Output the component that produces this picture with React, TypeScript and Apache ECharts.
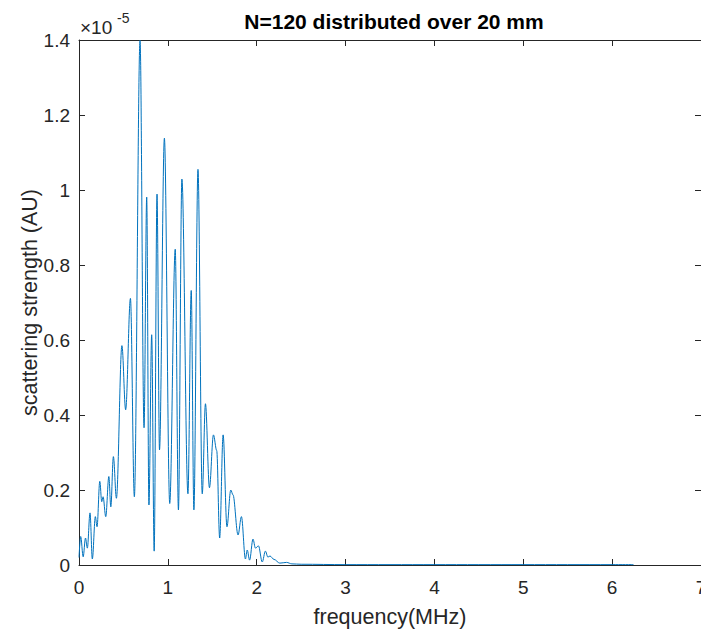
import React, { useEffect, useRef } from "react";
import * as echarts from "echarts";

// frequency in MHz
const freq = [
  0.0, 0.019, 0.047, 0.073, 0.094, 0.124, 0.15, 0.184, 0.203, 0.234, 0.256, 0.271, 0.301, 0.336,
  0.358, 0.387, 0.421, 0.483, 0.525, 0.579, 0.623, 0.687, 0.732, 0.762, 0.787, 0.818, 0.846,
  0.878, 0.906, 0.961, 1.021, 1.083, 1.119, 1.158, 1.226, 1.263, 1.293, 1.339, 1.387, 1.423,
  1.468, 1.513, 1.55, 1.583, 1.622, 1.665, 1.708, 1.733, 1.79, 1.828, 1.873, 1.893, 1.92,
  1.958, 1.986, 2.02, 2.062, 2.098, 2.126, 2.149, 2.194, 2.26, 2.336, 2.396, 2.5, 3.0, 3.5,
  4.0, 4.5, 5.0, 5.5, 6.0, 6.24,
];
// scattering strength in units of 1e-5 AU
const strength = [
  0.02, 0.076, 0.022, 0.072, 0.045, 0.139, 0.016, 0.129, 0.102, 0.223, 0.169, 0.182, 0.129, 0.236,
  0.155, 0.289, 0.178, 0.585, 0.414, 0.711, 0.182, 1.399, 0.366, 0.981, 0.16, 0.614, 0.037,
  0.989, 0.307, 1.138, 0.164, 0.842, 0.147, 1.029, 0.19, 0.732, 0.147, 1.055, 0.19, 0.43,
  0.206, 0.347, 0.305, 0.072, 0.347, 0.102, 0.2, 0.187, 0.08, 0.129, 0.016, 0.04, 0.013,
  0.069, 0.045, 0.051, 0.008, 0.037, 0.021, 0.024, 0.015, 0.005, 0.007, 0.003, 0.002, 0.001,
  0.001, 0.001, 0.001, 0.001, 0.001, 0.001, 0.001,
];
const xTicks = [0, 1, 2, 3, 4, 5, 6, 7];
const yTicks = [0, 0.2, 0.4, 0.6, 0.8, 1, 1.2, 1.4];

const FONT = "Liberation Sans, Arial, sans-serif";
const AX = "#262626";

export default function App() {
  const ref = useRef<HTMLDivElement>(null);
  useEffect(() => {
    const chart = echarts.init(ref.current!, null, { renderer: "svg" });
    const xMax = xTicks[xTicks.length - 1];
    const yMax = yTicks[yTicks.length - 1];
    const baseX = {
      type: "value" as const,
      min: xTicks[0],
      max: xMax,
      interval: 1,
      splitLine: { show: false },
      axisLine: { show: true, onZero: false, lineStyle: { color: AX, width: 1 } },
      axisTick: { show: true, inside: true, length: 6, lineStyle: { color: AX } },
    };
    const baseY = {
      type: "value" as const,
      min: yTicks[0],
      max: yMax,
      interval: 0.2,
      splitLine: { show: false },
      axisLine: { show: true, onZero: false, lineStyle: { color: AX, width: 1 } },
      axisTick: { show: true, inside: true, length: 6, lineStyle: { color: AX } },
    };
    chart.setOption({
      animation: false,
      backgroundColor: "#ffffff",
      title: {
        text: "N=120 distributed over 20 mm",
        left: 389,
        textAlign: "center",
        top: 6,
        textStyle: { fontFamily: FONT, fontSize: 21, fontWeight: "bold", color: "#000" },
      },
      grid: {
        left: 79,
        right: 0,
        top: 40,
        bottom: 66,
        containLabel: false,
        outerBoundsMode: "none",
      },
      xAxis: [
        {
          ...baseX,
          position: "bottom",
          name: "frequency(MHz)",
          nameLocation: "middle",
          nameGap: 41,
          nameMoveOverlap: false,
          nameTextStyle: { fontFamily: FONT, fontSize: 21.5, color: AX },
          axisLabel: {
            fontFamily: FONT,
            fontSize: 19,
            color: AX,
            margin: 13,
            formatter: (v: number) => String(v),
          },
        },
        { ...baseX, position: "top", axisLabel: { show: false } },
      ],
      yAxis: [
        {
          ...baseY,
          position: "left",
          name: "scattering strength (AU)",
          nameLocation: "middle",
          nameGap: 38,
          nameMoveOverlap: false,
          nameTextStyle: { fontFamily: FONT, fontSize: 21.5, color: AX },
          axisLabel: {
            fontFamily: FONT,
            fontSize: 19,
            color: AX,
            margin: 9,
            formatter: (v: number) => String(Math.round(v * 10) / 10),
          },
        },
        { ...baseY, position: "right", axisLabel: { show: false } },
      ],
      graphic: [
        {
          type: "text",
          left: 80,
          top: 18,
          style: { text: "×10", fontFamily: FONT, fontSize: 19, fill: AX },
        },
        {
          type: "text",
          left: 117,
          top: 11,
          style: { text: "-5", fontFamily: FONT, fontSize: 14, fill: AX },
        },
      ],
      series: [
        {
          type: "line",
          xAxisIndex: 0,
          yAxisIndex: 0,
          data: freq.map((f, i) => [f, strength[i]]),
          showSymbol: false,
          smooth: 0.35,
          smoothMonotone: "x",
          lineStyle: { color: "#0072BD", width: 1 },
          clip: true,
        },
      ],
    });
    return () => chart.dispose();
  }, []);
  return (
    <div
      ref={ref}
      style={{ position: "fixed", left: 0, top: 0, width: 701, height: 631 }}
    />
  );
}
